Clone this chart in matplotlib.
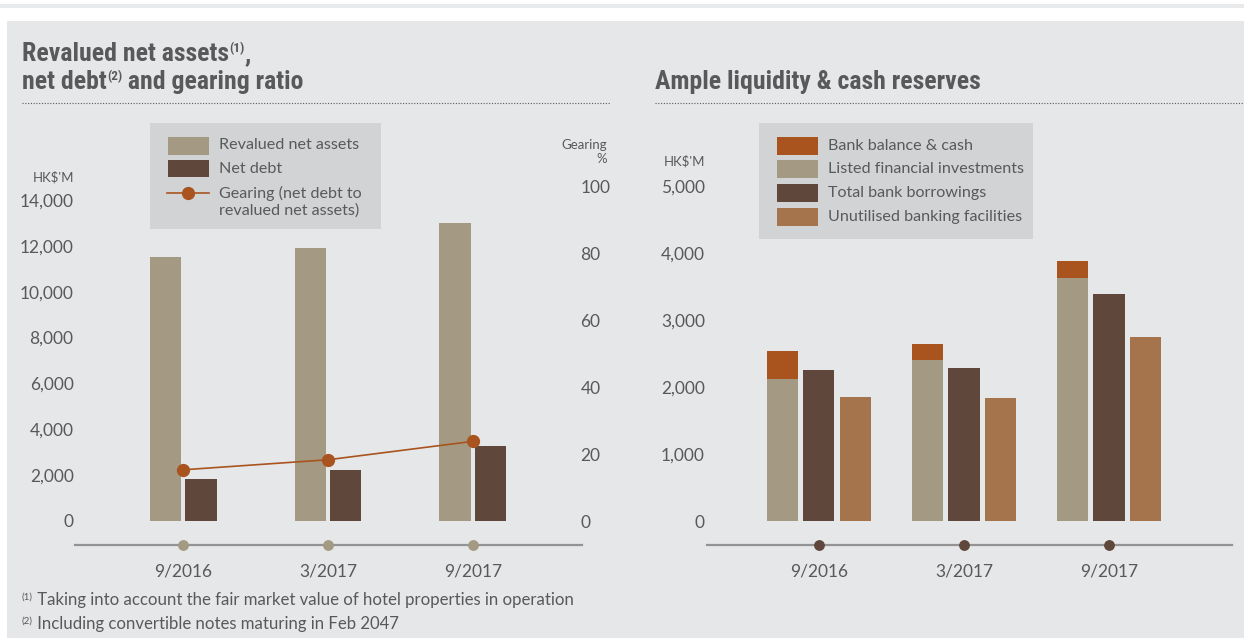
import matplotlib
matplotlib.use('Agg')
import matplotlib.pyplot as plt
from matplotlib.patches import Rectangle
from matplotlib.lines import Line2D

# ---------------------------- data ----------------------------
periods = ['9/2016', '3/2017', '9/2017']

revalued_net_assets = [11500, 11900, 13000]   # HK$'M
net_debt = [1830, 2220, 3270]                 # HK$'M
gearing = [15.3, 18.3, 23.8]                  # %

listed_investments = [2120, 2400, 3630]       # HK$'M
bank_balance = [420, 240, 250]                # stacked on listed investments
bank_borrowings = [2250, 2280, 3390]
unutilised_facilities = [1850, 1840, 2750]

left_ticks = [0, 2000, 4000, 6000, 8000, 10000, 12000, 14000]
gearing_ticks = [0, 20, 40, 60, 80, 100]
right_ticks = [0, 1000, 2000, 3000, 4000, 5000]

# ---------------------------- style ----------------------------
W, H = 1244, 638
TAN = '#a49a83'
DARK = '#5f473b'
RUST = '#a9541f'
LIGHTBROWN = '#a6744c'
PANEL = '#e6e7e8'
LEGBOX = '#d2d3d5'
TXT = '#58595b'
AXLINE = '#939393'

BODY = ['Lato', 'DejaVu Sans']
TITLE = ['Roboto Condensed', 'Lato', 'DejaVu Sans']

plt.rcParams['font.family'] = BODY

fig = plt.figure(figsize=(W / 100, H / 100), dpi=100)
fig.patch.set_facecolor('white')


def px(x, y):
    return x / W, 1 - y / H


def rect(x0, y0, x1, y1, color, z=0):
    fig.add_artist(Rectangle(px(x0, y1), (x1 - x0) / W, (y1 - y0) / H,
                             transform=fig.transFigure, color=color, lw=0, zorder=z))


def runs(x, y, parts, **kw):
    # parts: (text, size, rise in px) written one after another on a baseline
    r = fig.canvas.get_renderer()
    for s, size, rise in parts:
        t = fig.text(*px(x, y - rise), s, fontsize=size, va='baseline', **kw)
        x = t.get_window_extent(r).x1


# background pieces
rect(0, 4, W, 8, '#e9eaeb')
rect(7, 21, W, H, PANEL)

# titles
runs(22, 61, [('Revalued net assets', 18.5, 0), ('(1)', 9.5, 9), (',', 18.5, 0)],
     family=TITLE, weight='bold', color=TXT)
runs(22, 89, [('net debt', 18.5, 0), ('(2)', 9.5, 9), (' and gearing ratio', 18.5, 0)],
     family=TITLE, weight='bold', color=TXT)
runs(655, 89, [('Ample liquidity & cash reserves', 18.5, 0)],
     family=TITLE, weight='bold', color=TXT)

for x0, x1 in [(22, 610), (655, 1243)]:
    fig.add_artist(Line2D([x0 / W, x1 / W], [1 - 103 / H] * 2, transform=fig.transFigure,
                          color=TXT, lw=0.8, ls=(0, (1, 1.5))))

# ---------------------------- left chart ----------------------------
ax = fig.add_axes([75 / W, (H - 545) / H, (582 - 75) / W, 360 / H])
ax.set_facecolor('none')
x = range(len(periods))
bw = 0.214
ax.bar([i - 0.124 for i in x], revalued_net_assets, bw, color=TAN, zorder=2)
ax.bar([i + 0.124 for i in x], net_debt, bw, color=DARK, zorder=2)
ax.set_xlim(-0.745, 2.752)
ax.set_ylim(-1047, 14655)
ax.set_yticks(left_ticks, labels=[f'{v:,}' for v in left_ticks])
ax.set_xticks(list(x), labels=periods)
ax.tick_params(length=0, labelsize=12.5, labelcolor=TXT)
ax.tick_params(axis='x', pad=13)
ax.tick_params(axis='y', pad=1)
for s in ['top', 'left', 'right']:
    ax.spines[s].set_visible(False)
ax.spines['bottom'].set_color(AXLINE)
ax.spines['bottom'].set_linewidth(1.6)
ax.scatter(list(x), [-1047] * 3, s=46, color=TAN, clip_on=False, zorder=5)

ax2 = ax.twinx()
ax2.plot(list(x), gearing, color=RUST, lw=1.2, marker='o', ms=8.5, zorder=4)
ax2.set_ylim(-7.14, 100.3)
ax2.set_yticks(gearing_ticks)
ax2.tick_params(length=0, labelsize=12.5, labelcolor=TXT, pad=-1)
for s in ax2.spines.values():
    s.set_visible(False)

fig.text(*px(74, 177), "HK$'M", fontsize=9.5, color=TXT, ha='right', va='center')
fig.text(*px(607, 145), 'Gearing', fontsize=9.5, color=TXT, ha='right', va='center')
fig.text(*px(607, 159), '%', fontsize=9.5, color=TXT, ha='right', va='center')

# left legend
rect(150, 123, 381, 229, LEGBOX, z=1)
rect(168, 137, 209, 155, TAN, z=2)
rect(168, 160, 209, 177, DARK, z=2)
fig.add_artist(Line2D([167 / W, 209 / W], [1 - 193 / H] * 2, transform=fig.transFigure,
                      color=RUST, lw=1.2, zorder=2))
fig.add_artist(Line2D([188 / W], [1 - 193 / H], transform=fig.transFigure,
                      color=RUST, marker='o', ms=8.5, zorder=3))
for ty, s in [(145, 'Revalued net assets'), (169, 'Net debt'),
              (193, 'Gearing (net debt to'), (211, 'revalued net assets)')]:
    fig.text(*px(219, ty), s, fontsize=11.6, color=TXT, va='center', zorder=3)

# ---------------------------- right chart ----------------------------
bx = fig.add_axes([707 / W, (H - 545) / H, (1232 - 707) / W, 360 / H])
bx.set_facecolor('none')
bx.bar([i - 0.25 for i in x], listed_investments, bw, color=TAN, zorder=2)
bx.bar([i - 0.25 for i in x], bank_balance, bw, bottom=listed_investments, color=RUST, zorder=2)
bx.bar(list(x), bank_borrowings, bw, color=DARK, zorder=2)
bx.bar([i + 0.25 for i in x], unutilised_facilities, bw, color=LIGHTBROWN, zorder=2)
bx.set_xlim(-0.772, 2.848)
bx.set_ylim(-358, 5015)
bx.set_yticks(right_ticks, labels=[f'{v:,}' for v in right_ticks])
bx.set_xticks(list(x), labels=periods)
bx.tick_params(length=0, labelsize=12.5, labelcolor=TXT)
bx.tick_params(axis='x', pad=13)
bx.tick_params(axis='y', pad=1.5)
for s in ['top', 'left', 'right']:
    bx.spines[s].set_visible(False)
bx.spines['bottom'].set_color(AXLINE)
bx.spines['bottom'].set_linewidth(1.6)
bx.scatter(list(x), [-358] * 3, s=46, color=DARK, clip_on=False, zorder=5)

fig.text(*px(705, 161), "HK$'M", fontsize=9.5, color=TXT, ha='right', va='center')

# right legend
rect(759, 123, 1033, 239, LEGBOX, z=1)
for (y0, y1, c, s) in [(137, 155, RUST, 'Bank balance & cash'),
                       (160, 178, TAN, 'Listed financial investments'),
                       (184, 202, DARK, 'Total bank borrowings'),
                       (208, 226, LIGHTBROWN, 'Unutilised banking facilities')]:
    rect(777, y0, 818, y1, c, z=2)
    fig.text(*px(828, (y0 + y1) / 2), s, fontsize=11.6, color=TXT, va='center', zorder=3)

# footnotes
runs(22, 605, [('(1)', 7, 5), (' Taking into account the fair market value of hotel properties in operation', 12.1, 0)],
     color=TXT)
runs(22, 629, [('(2)', 7, 5), (' Including convertible notes maturing in Feb 2047', 12.1, 0)],
     color=TXT)

fig.savefig('out.png', dpi=100, facecolor=fig.get_facecolor())
